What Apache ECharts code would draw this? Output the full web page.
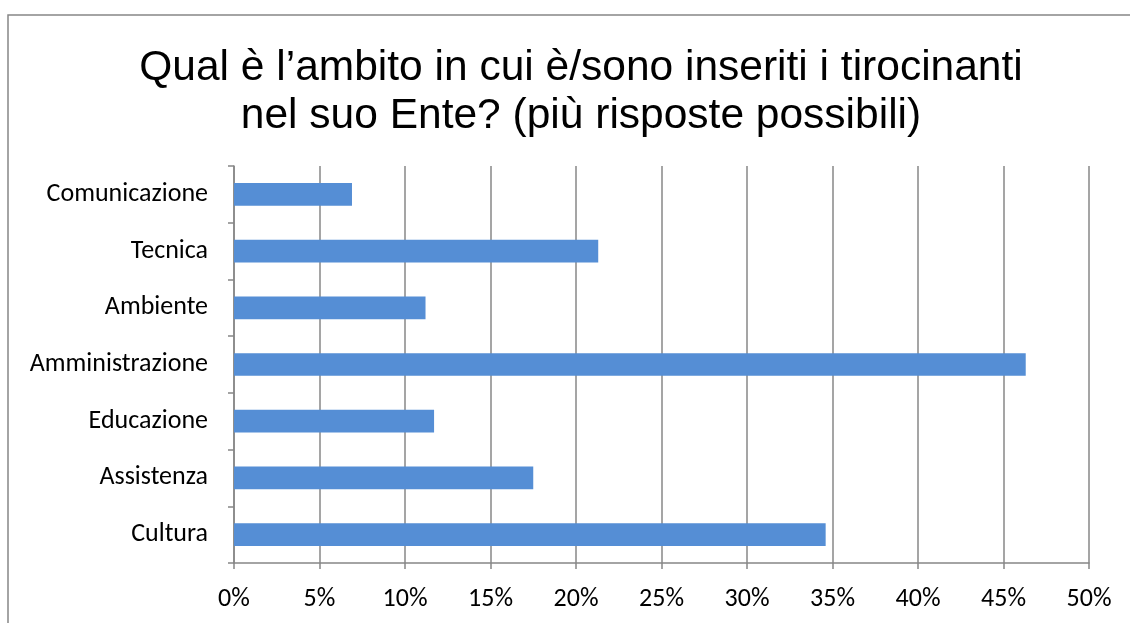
<!DOCTYPE html>
<html>
<head>
<meta charset="utf-8">
<script src="https://cdn.jsdelivr.net/npm/echarts@6/dist/echarts.min.js"></script>
<style>
  html, body { margin: 0; padding: 0; background: #fff; }
  #mChart { width: 1130px; height: 623px; }
</style>
</head>
<body>
<div id="mChart"></div>
<script>
  // categorie dal basso verso l'alto (l'asse delle categorie parte dal basso)
  var categories = ['Cultura', 'Assistenza', 'Educazione', 'Amministrazione', 'Ambiente', 'Tecnica', 'Comunicazione'];
  var values = [34.6, 17.5, 11.7, 46.3, 11.2, 21.3, 6.9];
  var titleLines = ['Qual è l’ambito in cui è/sono inseriti i tirocinanti', 'nel suo Ente? (più risposte possibili)'];

  var labelFont = 'Carlito, Lato, "Open Sans", sans-serif';
  var gray = '#878787';

  var myChart = echarts.init(document.getElementById('mChart'));
  myChart.setOption({
    animation: false,
    title: {
      text: titleLines.join('\n'),
      left: 576,
      textAlign: 'center',
      top: 39,
      textStyle: {
        fontFamily: '"Liberation Sans", Arial, sans-serif',
        fontWeight: 'normal',
        fontSize: 42.5,
        lineHeight: 48,
        color: '#000'
      }
    },
    graphic: [
      {
        type: 'polyline',
        shape: { points: [[8, 640], [8, 15], [1140, 15]] },
        style: { stroke: gray, lineWidth: 1.5, fill: null },
        silent: true
      }
    ],
    grid: {
      left: 234,
      right: 41,
      top: 166,
      bottom: 60,
      containLabel: false
    },
    xAxis: {
      type: 'value',
      min: 0,
      max: 50,
      interval: 5,
      axisLine: { show: true, lineStyle: { color: gray, width: 1.5 } },
      axisTick: { show: true, length: 6, lineStyle: { color: gray, width: 1.5 } },
      splitLine: { show: true, lineStyle: { color: gray, width: 1.5 } },
      axisLabel: {
        formatter: '{value}%',
        color: '#000',
        fontSize: 26,
        fontFamily: labelFont,
        margin: 23
      }
    },
    yAxis: {
      type: 'category',
      data: categories,
      axisLine: { show: true, lineStyle: { color: gray, width: 1.5 } },
      axisTick: { show: true, length: 6, lineStyle: { color: gray, width: 1.5 } },
      splitLine: { show: false },
      axisLabel: {
        color: '#000',
        fontSize: 26,
        fontFamily: labelFont,
        margin: 26
      }
    },
    series: [
      {
        name: 'Ambito',
        type: 'bar',
        data: values,
        barCategoryGap: '60%',
        itemStyle: { color: '#558ED5' }
      }
    ]
  });
</script>
</body>
</html>
